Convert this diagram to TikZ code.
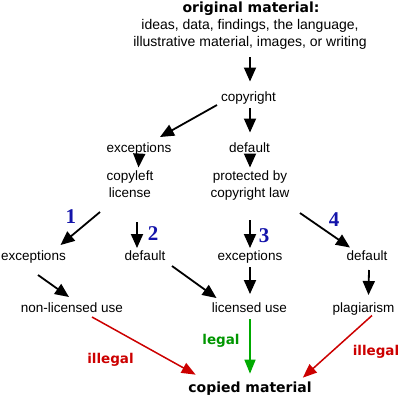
\documentclass[tikz,border=0pt]{standalone}
\usepackage{fontspec}
\setmainfont{Liberation Sans}
\newfontfamily\heavy{DejaVu Sans}
\newfontfamily\numfont{Liberation Serif}
\usetikzlibrary{arrows.meta,calc}
\definecolor{illred}{RGB}{204,0,0}
\definecolor{legalgreen}{RGB}{0,150,0}
\definecolor{arrgreen}{RGB}{0,170,0}
\definecolor{numblue}{RGB}{20,20,170}
\begin{document}
\begin{tikzpicture}[x=1pt,y=-1pt,
  txt/.style={font=\fontsize{13.5}{17}\selectfont, inner sep=0pt, anchor=base, align=center},
  ttl/.style={font=\fontsize{14}{17}\selectfont, inner sep=0pt, anchor=base},
  hvy/.style={font=\heavy\bfseries\fontsize{14}{17}\selectfont, inner sep=0pt, anchor=base},
  lab/.style={font=\heavy\bfseries\fontsize{13.5}{17}\selectfont, inner sep=0pt, anchor=base},
  num/.style={font=\numfont\bfseries\fontsize{21}{21}\selectfont, text=numblue, inner sep=0pt, anchor=base},
  arr/.style={-{Triangle[length=14pt,width=12pt]}, line width=1.8pt},
  carr/.style={-{Triangle[length=14pt,width=11pt]}, line width=1.5pt}]
\useasboundingbox (0,0) rectangle (400,400);
% title
\node[hvy] (t1) at (251,12) {original material:};
\node[ttl] (t2) at (250,29) {ideas, data, findings, the language,};
\node[ttl] (t3) at (250,46) {illustrative material, images, or writing};
% nodes
\node[txt] (cr) at (248.5,101.5) {copyright};
\node[txt] (ex1) at (139,152) {exceptions};
\node[txt] (df1) at (249.5,152.5) {default};
\node[txt] (cl) at (130,197.5) {copyleft\\license};
\node[txt] (pr) at (250,197.5) {protected by\\copyright law};
\node[txt] (ex2) at (33.5,260.5) {exceptions};
\node[txt] (df2) at (145,260.5) {default};
\node[txt] (ex3) at (250,260.5) {exceptions};
\node[txt] (df4) at (367,260.5) {default};
\node[txt] (nl) at (72,312) {non-licensed use};
\node[txt] (lu) at (249.5,312) {licensed use};
\node[txt] (pl) at (363.5,312) {plagiarism};
\node[hvy] (cm) at (250,392.5) {copied material};
% labels
\node[num] (n1) at (71,223.5) {1};
\node[num] (n2) at (153,240.5) {2};
\node[num] (n3) at (264,242) {3};
\node[num] (n4) at (334,226) {4};
\node[lab, text=illred] (il1) at (110.5,363) {illegal};
\node[lab, text=legalgreen] (lg) at (221,344.5) {legal};
\node[lab, text=illred] (il2) at (376,355.5) {illegal};
% arrows
\draw[arr] ($(t3.base)+(0,11)$) -- ($(cr.north)+(1.5,-10)$);
\draw[arr] ($(cr.base)+(-31.5,3.5)$) -- ($(ex1.north)+(21,-5)$);
\draw[arr] ($(cr.base)+(1.5,6.5)$) -- ($(df1.north)+(0.5,-10)$);
\draw[arr] ($(ex1.base)+(0,6)$) -- ($(cl.north)+(8.5,-3)$);
\draw[arr] ($(df1.base)+(0.5,5)$) -- ($(pr.north)+(0,-3)$);
\draw[arr] ($(cl.base)+(-30,14.5)$) -- ($(ex2.north)+(27,-5.5)$);
\draw[arr] ($(cl.base)+(7,24.5)$) -- ($(df2.north)+(-8,-2.5)$);
\draw[arr] ($(pr.base)+(0,22.5)$) -- ($(ex3.north)+(0,-2.5)$);
\draw[arr] ($(pr.base)+(50,15.5)$) -- ($(df4.north)+(-17,-3)$);
\draw[arr] ($(ex2.base)+(4.5,14.5)$) -- ($(nl.north)+(-3,-5)$);
\draw[arr] ($(df2.base)+(27,5.5)$) -- ($(lu.north)+(-33,-4)$);
\draw[arr] ($(ex3.base)+(0,6.5)$) -- ($(lu.north)+(0.5,-8)$);
\draw[arr] ($(df4.base)+(2,9.5)$) -- ($(pl.north)+(5,-7)$);
\draw[carr, illred] ($(nl.base)+(20,5)$) -- ($(cm.north west)+(7.5,-7)$);
\draw[carr, arrgreen] ($(lu.base)+(0.5,7)$) -- ($(cm.north)+(0,-8)$);
\draw[carr, illred] ($(pl.base)+(8.5,3.5)$) -- ($(cm.north east)+(-9,-4)$);
\end{tikzpicture}
\end{document}
